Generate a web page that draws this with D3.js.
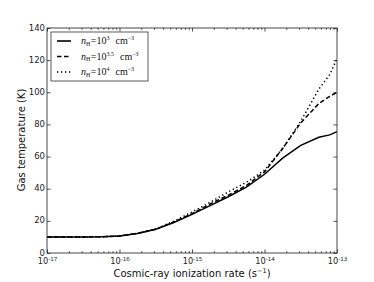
<!DOCTYPE html>
<html><head><meta charset="utf-8">
<script src="https://cdn.jsdelivr.net/npm/d3@7"></script>
<style>body{margin:0;background:#fff}svg{display:block}</style>
</head><body>
<svg id="c" width="374" height="282"></svg>
<script>
const logRates = [-17,-16.75,-16.5,-16.25,-16,-15.75,-15.5,-15.25,-15,-14.75,-14.5,-14.25,-14,-13.75,-13.5,-13.25,-13.1,-13];
const tempN3   = [10,10,10,10.1,10.6,12.2,14.8,19,24,29.5,35,41,49,59,67,72,73.5,75.5];
const tempN35  = [10,10,10,10.1,10.6,12.2,14.8,19.3,24.5,30.5,36,42,50.5,65,81,93,97.5,100];
const tempN4   = [10,10,10,10.1,10.6,12.3,15,19.8,25.5,31.5,38,44,51.5,65,82,102,111,121];
const xTickExps = [-17,-16,-15,-14,-13];
const yTicks = [0,20,40,60,80,100,120,140];
const seriesExp = ["3","3.5","4"];
const seriesDash = [null,"4.5,2.5","1.3,2.7"];

const svg = d3.select("#c");
const L=47,R=337,T=28,B=253;
const x = d3.scaleLog().domain([1e-17,1e-13]).range([L,R]);
const y = d3.scaleLinear().domain([0,140]).range([B,T]);

const minor = [];
for (let e=-17;e<-13;e++) for (let m=2;m<=9;m++) minor.push(m*Math.pow(10,e));
const major = xTickExps.map(e=>Math.pow(10,e));

function styleAxis(g){ g.select(".domain").remove(); g.selectAll("line").attr("stroke","#222").attr("stroke-width",0.8); }

svg.append("g").attr("transform",`translate(0,${B})`).call(d3.axisBottom(x).tickValues(minor).tickSize(-1.8).tickFormat("")).call(styleAxis);
svg.append("g").attr("transform",`translate(0,${T})`).call(d3.axisTop(x).tickValues(minor).tickSize(-1.8).tickFormat("")).call(styleAxis);
svg.append("g").attr("transform",`translate(0,${T})`).call(d3.axisTop(x).tickValues(major).tickSize(-3.5).tickFormat("")).call(styleAxis);
const xb = svg.append("g").attr("transform",`translate(0,${B})`).call(d3.axisBottom(x).tickValues(major).tickSize(-3.5).tickPadding(5.5).tickFormat(()=>""))
  .call(styleAxis);
xb.selectAll(".tick text").each(function(d,i){
  const t=d3.select(this).attr("font-family","DejaVu Sans").attr("font-size",8.2).attr("fill","#222").attr("dy","0.71em");
  t.append("tspan").text("10");
  t.append("tspan").attr("dy","-0.55em").attr("font-size",5.6).text(String(xTickExps[i]));
});
const yl = svg.append("g").attr("transform",`translate(${L},0)`).call(d3.axisLeft(y).tickValues(yTicks).tickSize(-3.5).tickPadding(2)).call(styleAxis);
yl.selectAll(".tick text").attr("font-family","DejaVu Sans").attr("font-size",8.5).attr("fill","#222").attr("dy","0.25em");
svg.append("g").attr("transform",`translate(${R},0)`).call(d3.axisRight(y).tickValues(yTicks).tickSize(-3.5).tickFormat("")).call(styleAxis);

const line = d3.line().x((d,i)=>x(Math.pow(10,logRates[i]))).y(d=>y(d));
[tempN3,tempN35,tempN4].forEach((s,k)=>{
  const p=svg.append("path").attr("d",line(s)).attr("fill","none").attr("stroke","#000").attr("stroke-width",1.5);
  if(seriesDash[k]) p.attr("stroke-dasharray",seriesDash[k]);
});

svg.append("rect").attr("x",L).attr("y",T).attr("width",R-L).attr("height",B-T).attr("fill","none").attr("stroke","#333").attr("stroke-width",0.9);

const lg = svg.append("g");
lg.append("rect").attr("x",51).attr("y",32).attr("width",97).attr("height",49).attr("fill","#fff").attr("stroke","#333").attr("stroke-width",0.8);
seriesExp.forEach((e,k)=>{
  const yy = 41 + k*15.5;
  const p=lg.append("line").attr("x1",57).attr("x2",71).attr("y1",yy).attr("y2",yy).attr("stroke","#000").attr("stroke-width",1.6);
  if(seriesDash[k]) p.attr("stroke-dasharray",seriesDash[k]);
  const t=lg.append("text").attr("x",81).attr("y",yy+3).attr("font-family","Liberation Serif").attr("font-size",10).attr("fill","#111");
  t.append("tspan").attr("font-style","italic").text("n");
  t.append("tspan").attr("font-size",6).attr("dy","1.5").text("H");
  t.append("tspan").attr("dy","-1.5").attr("dx","0.5").text("=10");
  t.append("tspan").attr("font-size",6).attr("dy","-4").text(e);
  t.append("tspan").attr("dy","4").attr("dx","6").text("cm");
  t.append("tspan").attr("font-size",6).attr("dy","-4").text("\u22123");
});

const xl = svg.append("text").attr("x",192).attr("y",277).attr("text-anchor","middle").attr("font-family","DejaVu Sans").attr("font-size",10).attr("fill","#111");
xl.append("tspan").text("Cosmic-ray ionization rate (s");
xl.append("tspan").attr("font-size",6.5).attr("dy","-4").text("\u22121");
xl.append("tspan").attr("dy","4").text(")");
svg.append("text").attr("transform","translate(25,140) rotate(-90)").attr("text-anchor","middle").attr("font-family","DejaVu Sans").attr("font-size",10).attr("fill","#111").text("Gas temperature (K)");
</script>
</body></html>
